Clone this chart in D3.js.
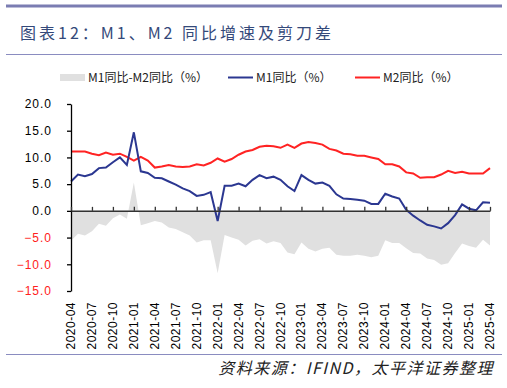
<!DOCTYPE html>
<html>
<head>
<meta charset="utf-8">
<script src="https://cdn.jsdelivr.net/npm/d3@7"></script>
<style>
  body { margin: 0; background: #ffffff; }
  svg { display: block; }
</style>
</head>
<body>
<div id="chart"></div>
<script>
// months 2020-04 .. 2025-04
var months = [
  "2020-04","2020-05","2020-06","2020-07","2020-08","2020-09","2020-10","2020-11","2020-12",
  "2021-01","2021-02","2021-03","2021-04","2021-05","2021-06","2021-07","2021-08","2021-09","2021-10","2021-11","2021-12",
  "2022-01","2022-02","2022-03","2022-04","2022-05","2022-06","2022-07","2022-08","2022-09","2022-10","2022-11","2022-12",
  "2023-01","2023-02","2023-03","2023-04","2023-05","2023-06","2023-07","2023-08","2023-09","2023-10","2023-11","2023-12",
  "2024-01","2024-02","2024-03","2024-04","2024-05","2024-06","2024-07","2024-08","2024-09","2024-10","2024-11","2024-12",
  "2025-01","2025-02","2025-03","2025-04"
];

// M1 同比 (%)
var m1 = [
  5.5, 6.8, 6.5, 6.9, 8.0, 8.1, 9.1, 10.0, 8.6,
  14.7, 7.4, 7.1, 6.2, 6.1, 5.5, 4.9, 4.2, 3.7, 2.8, 3.0, 3.5,
  -1.9, 4.7, 4.7, 5.1, 4.6, 5.8, 6.7, 6.1, 6.4, 5.8, 4.6, 3.7,
  6.7, 5.8, 5.1, 5.3, 4.7, 3.1, 2.3, 2.2, 2.1, 1.9, 1.3, 1.3,
  3.2, 2.7, 2.3, 0.2, -0.9, -1.8, -2.6, -2.9, -3.3, -2.3, -0.8, 1.2,
  0.4, 0.1, 1.6, 1.5
];

// M2 同比 (%)
var m2 = [
  11.1, 11.1, 11.1, 10.7, 10.4, 10.9, 10.5, 10.7, 10.1,
  9.4, 10.1, 9.4, 8.1, 8.3, 8.6, 8.3, 8.2, 8.3, 8.7, 8.5, 9.0,
  9.8, 9.2, 9.7, 10.5, 11.1, 11.4, 12.0, 12.2, 12.1, 11.8, 12.4, 11.8,
  12.6, 12.9, 12.7, 12.4, 11.6, 11.3, 10.7, 10.6, 10.3, 10.3, 10.0, 9.7,
  8.7, 8.7, 8.3, 7.2, 7.0, 6.2, 6.3, 6.3, 6.8, 7.5, 7.1, 7.3,
  7.0, 7.0, 7.0, 8.0
];

// M1同比-M2同比 (%)
var gap = [
  -5.6, -4.3, -4.6, -3.8, -2.4, -2.8, -1.4, -0.7, -1.5,
  5.3, -2.7, -2.3, -1.9, -2.2, -3.1, -3.4, -4.0, -4.6, -5.9, -5.5, -5.5,
  -11.7, -4.5, -5.0, -5.4, -6.5, -5.6, -5.3, -6.1, -5.7, -6.0, -7.8, -8.1,
  -5.9, -7.1, -7.6, -7.1, -6.9, -8.2, -8.4, -8.4, -8.2, -8.4, -8.7, -8.4,
  -5.5, -6.0, -6.0, -7.0, -7.9, -8.0, -8.9, -9.2, -10.1, -9.8, -7.9, -6.1,
  -6.6, -6.9, -5.4, -6.5
];

var yTicks = [-15, -10, -5, 0, 5, 10, 15, 20];

var width = 507, height = 388;
var svg = d3.select("#chart").append("svg")
    .attr("width", width)
    .attr("height", height);

var cjk = "'Noto Sans CJK SC', 'Noto Sans', sans-serif";
var latin = "'Liberation Sans', Arial, sans-serif";

// header / footer rules
svg.append("line").attr("x1", 6).attr("x2", 502).attr("y1", 6).attr("y2", 6)
    .attr("stroke", "#7b7db2").attr("stroke-width", 3);
svg.append("line").attr("x1", 6).attr("x2", 502).attr("y1", 54.5).attr("y2", 54.5)
    .attr("stroke", "#8a8cc0").attr("stroke-width", 1);
svg.append("line").attr("x1", 6).attr("x2", 502).attr("y1", 354.5).attr("y2", 354.5)
    .attr("stroke", "#8a8cc0").attr("stroke-width", 1);

svg.append("text")
    .attr("x", 20).attr("y", 39)
    .attr("font-family", cjk)
    .attr("font-size", 16)
    .attr("letter-spacing", 3)
    .attr("fill", "#34497a")
    .text("图表12：M1、M2 同比增速及剪刀差");

svg.append("text")
    .attr("x", 494).attr("y", 374)
    .attr("text-anchor", "end")
    .attr("font-family", cjk)
    .attr("font-size", 16)
    .attr("font-style", "italic")
    .attr("letter-spacing", 1.5)
    .attr("fill", "#222")
    .text("资料来源：IFIND，太平洋证券整理");

// scales
var x = d3.scalePoint().domain(months).range([71, 490]);
var y = d3.scaleLinear().domain([-15, 20]).range([291, 104]);

// gap area
var area = d3.area()
    .x(function (d, i) { return x(months[i]); })
    .y0(y(0))
    .y1(function (d) { return y(d); });

svg.append("path")
    .datum(gap)
    .attr("d", area)
    .attr("fill", "#e0e0e0");

// lines
var line = d3.line()
    .x(function (d, i) { return x(months[i]); })
    .y(function (d) { return y(d); });

svg.append("path").datum(m2)
    .attr("d", line)
    .attr("fill", "none")
    .attr("stroke", "#ff2323")
    .attr("stroke-width", 2);

svg.append("path").datum(m1)
    .attr("d", line)
    .attr("fill", "none")
    .attr("stroke", "#2b3791")
    .attr("stroke-width", 2);

// y axis
var yAxis = d3.axisLeft(y)
    .tickValues(yTicks)
    .tickSizeInner(4)
    .tickSizeOuter(0)
    .tickFormat(d3.format(".1f"));

var gy = svg.append("g")
    .attr("transform", "translate(71,0)")
    .call(yAxis);
gy.select(".domain").attr("stroke", "#000").attr("stroke-width", 1.3);
gy.selectAll(".tick line").attr("stroke", "#000").attr("stroke-width", 1.3);
gy.selectAll(".tick text")
    .attr("x", -19)
    .attr("font-family", latin)
    .attr("font-size", 12)
    .attr("letter-spacing", 1)
    .attr("fill", function (d) { return d < 0 ? "#ff2020" : "#000"; });

// x axis along zero
var tickMonths = months.filter(function (d, i) { return i % 3 === 0; });
var xAxis = d3.axisBottom(x)
    .tickValues(tickMonths)
    .tickSizeInner(-4)
    .tickSizeOuter(0)
    .tickFormat("");

var gx = svg.append("g")
    .attr("transform", "translate(0," + y(0) + ")")
    .call(xAxis);
gx.select(".domain").attr("stroke", "#333").attr("stroke-width", 1.5);
gx.selectAll(".tick line").attr("stroke", "#333").attr("stroke-width", 1.3);

// rotated month labels
svg.append("g").selectAll("text")
    .data(tickMonths)
    .enter().append("text")
    .attr("transform", function (d) {
        return "translate(" + (x(d) + 4) + ",302) rotate(-90)";
    })
    .attr("text-anchor", "end")
    .attr("font-family", latin)
    .attr("font-size", 12)
    .attr("letter-spacing", 0.5)
    .attr("fill", "#000")
    .text(function (d) { return d; });

// legend
var legendItems = [
    {label: "M1同比-M2同比（%）", type: "area", color: "#e0e0e0", x: 60},
    {label: "M1同比（%）", type: "line", color: "#2b3791", x: 228},
    {label: "M2同比（%）", type: "line", color: "#ff2323", x: 355}
];

var legend = svg.append("g");
legendItems.forEach(function (item) {
    if (item.type === "area") {
        legend.append("rect")
            .attr("x", item.x).attr("y", 74)
            .attr("width", 25).attr("height", 7)
            .attr("fill", item.color);
    } else {
        legend.append("line")
            .attr("x1", item.x).attr("x2", item.x + 25)
            .attr("y1", 77.5).attr("y2", 77.5)
            .attr("stroke", item.color)
            .attr("stroke-width", 2);
    }
    legend.append("text")
        .attr("x", item.x + 28).attr("y", 82)
        .attr("font-family", cjk)
        .attr("font-size", 12)
        .attr("fill", "#222")
        .text(item.label);
});
</script>
</body>
</html>
